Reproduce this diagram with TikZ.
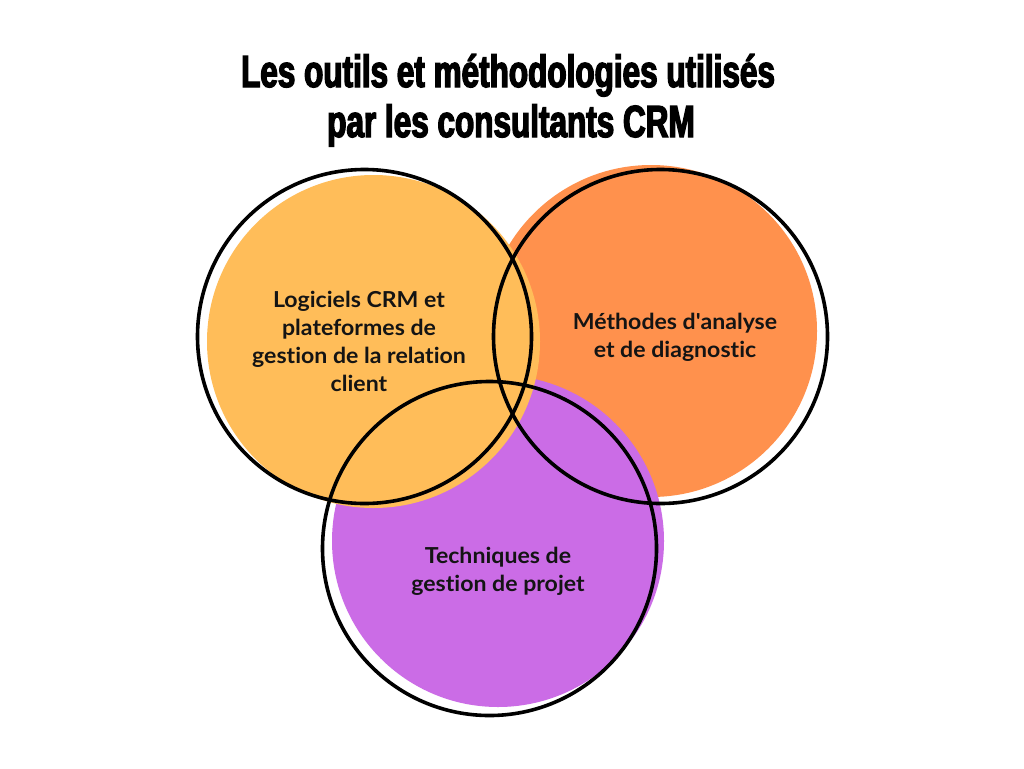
\documentclass[tikz,border=0pt]{standalone}
\usepackage{fontspec}
\setmainfont{Lato}[FakeStretch=1.05,Ligatures={NoCommon}]
\newfontfamily\titlefont[FakeStretch=0.70,FakeBold=3]{Liberation Sans Bold}
\definecolor{cyellow}{HTML}{FFBD59}
\definecolor{corange}{HTML}{FF914D}
\definecolor{cpurple}{HTML}{CB6CE6}
\definecolor{ctext}{HTML}{141414}
\begin{document}
\begin{tikzpicture}[x=1pt,y=-1pt,
  ring/.style={draw=black,line width=3.6pt},
  label/.style={align=center,text=ctext,font=\fontsize{22}{28}\selectfont\bfseries},
  titletext/.style={anchor=base,inner sep=0pt,font=\titlefont\fontsize{45}{50}\selectfont}]
\useasboundingbox[fill=white] (0,0) rectangle (1024,768);
% filled discs
\fill[corange] (651,331) circle (166);
\fill[cpurple] (498,541) circle (166);
\fill[cyellow] (373.5,341.5) circle (166.5);
% outline rings
\draw[ring] (364.5,336.5) circle (167);
\draw[ring] (660.5,336.5) circle (167);
\draw[ring] (489.5,548.5) circle (167);
% title
\node[titletext] (title1) at (508,87) {Les outils et méthodologies utilisés};
\node[titletext] (title2) at (511,137) {par les consultants CRM};
% labels
\node[label] (l1) at (359,341) {Logiciels CRM et\\plateformes de\\gestion de la relation\\client};
\node[label] (l2) at (675,337) {Méthodes d\textquotesingle analyse\\et de diagnostic};
\node[label] (l3) at (498,571) {Techniques de\\gestion de projet};
\end{tikzpicture}
\end{document}
